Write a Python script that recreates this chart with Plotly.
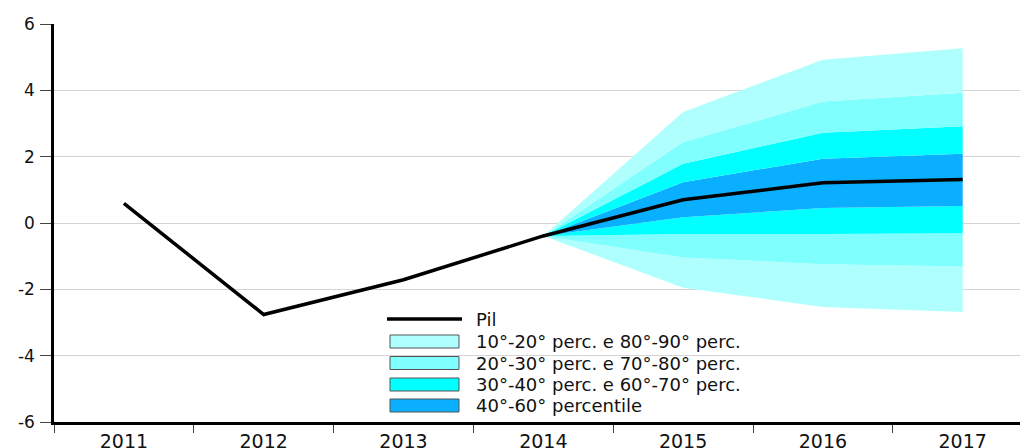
import plotly.graph_objects as go

# ---- data ----
years = ["2011", "2012", "2013", "2014", "2015", "2016", "2017"]
pil = [0.59, -2.76, -1.71, -0.39, 0.70, 1.21, 1.31]

fan_years = ["2014", "2015", "2016", "2017"]
p10 = [-0.39, -1.95, -2.53, -2.68]
p20 = [-0.39, -1.04, -1.24, -1.31]
p30 = [-0.39, -0.33, -0.33, -0.31]
p40 = [-0.39, 0.17, 0.45, 0.51]
p60 = [-0.39, 1.23, 1.94, 2.09]
p70 = [-0.39, 1.79, 2.72, 2.92]
p80 = [-0.39, 2.44, 3.66, 3.93]
p90 = [-0.39, 3.35, 4.92, 5.27]

legend_labels = [
    "Pil",
    "10°-20° perc. e 80°-90° perc.",
    "20°-30° perc. e 70°-80° perc.",
    "30°-40° perc. e 60°-70° perc.",
    "40°-60° percentile",
]

c1 = "#AFFFFF"
c2 = "#80FFFF"
c3 = "#00FFFF"
c4 = "#0AAFFF"

FONT = "DejaVu Sans"

fig = go.Figure()

# fan bands (stacked with tonexty)
bands = [
    (p10, None),
    (p20, c1),
    (p30, c2),
    (p40, c3),
    (p60, c4),
    (p70, c3),
    (p80, c2),
    (p90, c1),
]
for vals, col in bands:
    fig.add_trace(go.Scatter(
        x=fan_years, y=vals, mode="lines",
        line=dict(width=0, color=col or "rgba(0,0,0,0)"),
        fill="tonexty" if col else None,
        fillcolor=col,
        showlegend=False, hoverinfo="skip",
    ))

fig.add_trace(go.Scatter(
    x=years, y=pil, mode="lines",
    line=dict(color="black", width=3.5),
    showlegend=False, name="Pil",
))

# ---- layout geometry (pixels) ----
W, H = 1020, 448
ML, MR, MT, MB = 54, 0, 24, 26
PW, PH = W - ML - MR, H - MT - MB


def px(x):
    return (x - ML) / PW


def py(y):
    return (H - MB - y) / PH


shapes = []
annotations = []
# legend line
shapes.append(dict(type="line", xref="paper", yref="paper",
                   x0=px(387), x1=px(462), y0=py(319), y1=py(319),
                   line=dict(color="black", width=3.5)))
box_centers = [341.5, 363, 384.5, 405.5]
box_colors = [c1, c2, c3, c4]
for yc, col in zip(box_centers, box_colors):
    shapes.append(dict(type="rect", xref="paper", yref="paper",
                       x0=px(390), x1=px(459), y0=py(yc + 6.5), y1=py(yc - 6.5),
                       fillcolor=col, line=dict(color="#555555", width=1)))
text_centers = [319] + box_centers
for yc, lab in zip(text_centers, legend_labels):
    annotations.append(dict(xref="paper", yref="paper", x=px(474), y=py(yc),
                            text=lab, showarrow=False, xanchor="left", yanchor="middle",
                            font=dict(family=FONT, size=18, color="#111111")))

fig.update_layout(
    width=W, height=H,
    margin=dict(l=ML, r=MR, t=MT, b=MB, pad=0, autoexpand=False),
    paper_bgcolor="white", plot_bgcolor="white",
    shapes=shapes, annotations=annotations,
    font=dict(family=FONT, color="#111111"),
)

fig.update_xaxes(
    type="category", categoryorder="array", categoryarray=years,
    range=[-0.5, -0.5 + PW / 139.8], automargin=False,
    showgrid=False, showline=True, linecolor="black", linewidth=2.5,
    ticks="outside", tickson="boundaries", ticklen=8, tickcolor="#444444", tickwidth=1,
    tickfont=dict(family=FONT, size=19, color="#111111"),
    zeroline=False,
)
fig.update_yaxes(
    range=[-6, 6], tickmode="array", tickvals=[-6, -4, -2, 0, 2, 4, 6],
    ticktext=["-6", "-4", "-2", "0", "2", "4", "6"], automargin=False,
    showgrid=True, gridcolor="#D4D4D4", gridwidth=1,
    showline=True, linecolor="black", linewidth=2.5,
    ticks="outside", ticklen=11, tickcolor="#444444", tickwidth=1,
    tickfont=dict(family=FONT, size=17, color="#111111"), ticklabelstandoff=2,
    zeroline=False,
)

fig.write_html(
    "out.html",
    config={"displayModeBar": False},
    post_script="document.body.style.margin='0';document.body.style.overflow='hidden';"
                "document.documentElement.style.overflow='hidden';",
)
